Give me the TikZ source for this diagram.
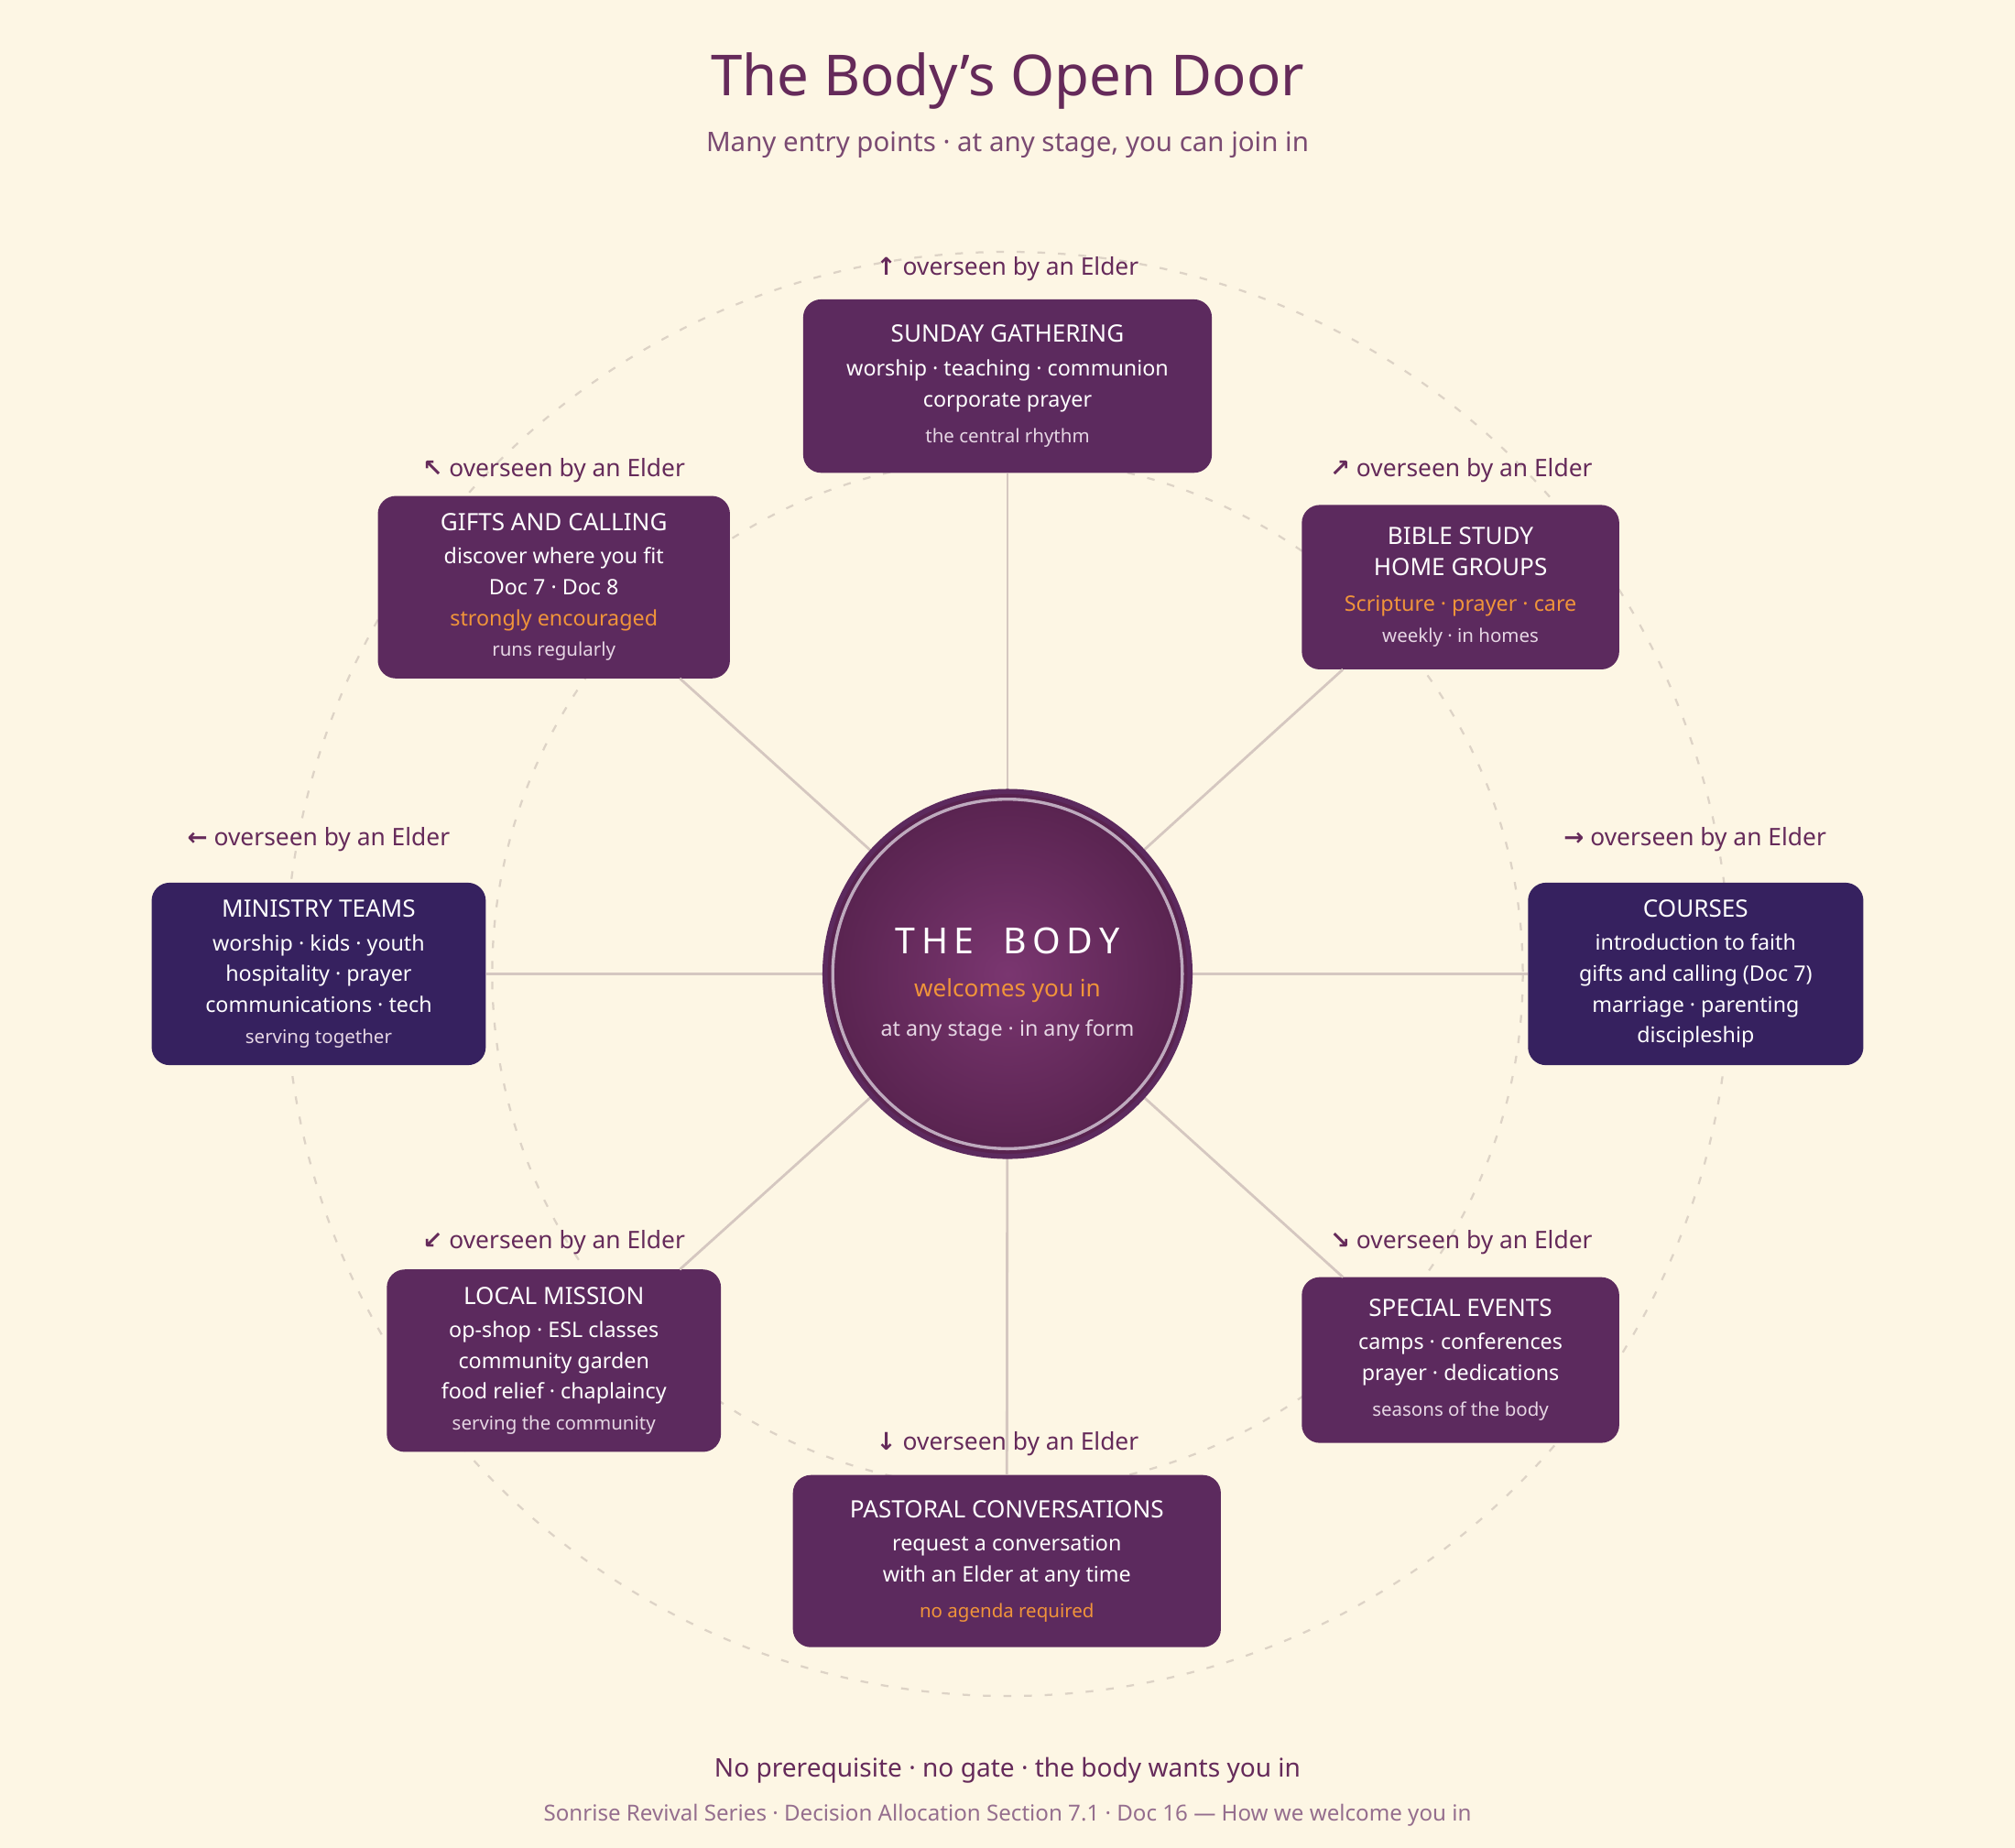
\documentclass[tikz,border=0pt]{standalone}
\usepackage{fontspec}
\setmainfont{Noto Sans}
\newfontfamily\arr{DejaVu Sans}
\usetikzlibrary{shapes.geometric}
\definecolor{bg}{HTML}{FDF6E4}
\definecolor{plum}{HTML}{5C2A5E}
\definecolor{indi}{HTML}{36215F}
\definecolor{ttl}{HTML}{652A5A}
\definecolor{sub}{HTML}{7A4A72}
\definecolor{spoke}{HTML}{D5C7C0}
\definecolor{dashc}{HTML}{DDD3C6}
\definecolor{org}{HTML}{F0943A}
\definecolor{soft}{HTML}{E6D6E4}
\definecolor{cin}{HTML}{7A3670}
\definecolor{cout}{HTML}{58234F}
\newcommand{\bt}[1]{{\fontsize{9.3}{12}\selectfont\bfseries #1}}
\newcommand{\bl}[1]{{\fontsize{8.3}{10.5}\selectfont #1}}
\newcommand{\sm}[1]{{\fontsize{7.3}{10}\selectfont\color{soft} #1}}
\begin{document}
\begin{tikzpicture}[x=0.5pt,y=-0.5pt,
 box/.style={rounded corners=7pt,text=white,align=center,inner sep=0pt},
 lab/.style={text=ttl,font=\fontsize{9.4}{11}\selectfont\bfseries},
 sp/.style={draw=spoke,line width=1pt},
 ring/.style={draw=dashc,line width=0.8pt,dash pattern=on 3pt off 5pt}]
\fill[bg] (0,0) rectangle (1568,1438);
\useasboundingbox (0,0) rectangle (1568,1438);
\draw[ring] (784,758) circle[radius=562];
\draw[ring] (784,758) circle[radius=401];
\node[text=ttl,font=\fontsize{22}{26}\selectfont\bfseries] (title) at (784,63) {The Body's Open Door};
\node[text=sub,font=\fontsize{10.5}{13}\selectfont] (subt) at (784,113) {Many entry points · at any stage, you can join in};
% boxes
\node[box,fill=plum,minimum width=159pt,minimum height=67.5pt] (sun) at (784,300.5) {\bt{SUNDAY GATHERING}\\[1pt]\bl{worship · teaching · communion}\\\bl{corporate prayer}\\[2pt]\sm{the central rhythm}};
\node[box,fill=plum,minimum width=137pt,minimum height=71pt] (gift) at (431,457) {\bt{GIFTS AND CALLING}\\[1pt]\bl{discover where you fit}\\\bl{Doc 7 · Doc 8}\\{\fontsize{8.3}{10.5}\selectfont\bfseries\color{org}strongly encouraged}\\\sm{runs regularly}};
\node[box,fill=plum,minimum width=123.5pt,minimum height=64pt] (bible) at (1136.5,457) {\bt{BIBLE STUDY}\\\bt{HOME GROUPS}\\[2pt]{\fontsize{8.3}{10.5}\selectfont\color{org}Scripture · prayer · care}\\\sm{weekly · in homes}};
\node[box,fill=indi,minimum width=130.5pt,minimum height=71pt] (cour) at (1319.5,758) {\bt{COURSES}\\[1pt]\bl{introduction to faith}\\\bl{gifts and calling (Doc 7)}\\\bl{marriage · parenting}\\\bl{discipleship}};
\node[box,fill=indi,minimum width=130pt,minimum height=71pt] (min) at (248,758) {\bt{MINISTRY TEAMS}\\[1pt]\bl{worship · kids · youth}\\\bl{hospitality · prayer}\\\bl{communications · tech}\\\sm{serving together}};
\node[box,fill=plum,minimum width=130pt,minimum height=71pt] (loc) at (431,1059) {\bt{LOCAL MISSION}\\[1pt]\bl{op-shop · ESL classes}\\\bl{community garden}\\\bl{food relief · chaplaincy}\\\sm{serving the community}};
\node[box,fill=plum,minimum width=123.5pt,minimum height=64.5pt] (spec) at (1136.5,1058.5) {\bt{SPECIAL EVENTS}\\[1pt]\bl{camps · conferences}\\\bl{prayer · dedications}\\[2pt]\sm{seasons of the body}};
\node[box,fill=plum,minimum width=166.5pt,minimum height=67pt] (past) at (783.5,1215) {\bt{PASTORAL CONVERSATIONS}\\[1pt]\bl{request a conversation}\\\bl{with an Elder at any time}\\[2pt]{\fontsize{7.3}{10}\selectfont\color{org}no agenda required}};
% center
\coordinate (c) at (784,758);
\coordinate (g1) at (529,528);
\coordinate (b1) at (1045,521);
\coordinate (m1) at (529,988);
\coordinate (s1) at (1045,994);
\draw[sp] (c) -- (sun.south);
\draw[sp] (c) -- (past.north);
\draw[sp] (c) -- (min.east);
\draw[sp] (c) -- (cour.west);
\draw[sp] (c) -- (g1);
\draw[sp] (c) -- (b1);
\draw[sp] (c) -- (m1);
\draw[sp] (c) -- (s1);
\shade[inner color=cin,outer color=cout] (784,758) circle[radius=142];
\draw[plum,line width=2pt] (784,758) circle[radius=142];
\draw[white!60!plum,line width=1.2pt] (784,758) circle[radius=136];
\node[text=white,font=\fontsize{14}{16}\selectfont\bfseries] (body) at (784,732) {T\,H\,E\;\; B\,O\,D\,Y};
\node[text=org,font=\fontsize{9.3}{11}\selectfont] (wel) at (784,771) {welcomes you in};
\node[text=soft,font=\fontsize{8.3}{10}\selectfont] (stage) at (784,802) {at any stage · in any form};
% labels
\node[lab] (l1) at (784,209) {{\arr ↑} overseen by an Elder};
\node[lab] (l2) at (431,366) {{\arr ↖} overseen by an Elder};
\node[lab] (l3) at (1137,366) {{\arr ↗} overseen by an Elder};
\node[lab] (l4) at (1319,653) {{\arr →} overseen by an Elder};
\node[lab] (l5) at (248,653) {{\arr ←} overseen by an Elder};
\node[lab] (l6) at (431,967) {{\arr ↙} overseen by an Elder};
\node[lab] (l7) at (1137,967) {{\arr ↘} overseen by an Elder};
\node[lab] (l8) at (784,1124) {{\arr ↓} overseen by an Elder};
\node[text=ttl,font=\fontsize{10}{12}\selectfont\bfseries] (f1) at (784,1378) {No prerequisite · no gate · the body wants you in};
\node[text=sub!80!white,font=\fontsize{8.6}{10}\selectfont] (f2) at (784,1413) {Sonrise Revival Series · Decision Allocation Section 7.1 · Doc 16 — How we welcome you in};
\end{tikzpicture}
\end{document}
